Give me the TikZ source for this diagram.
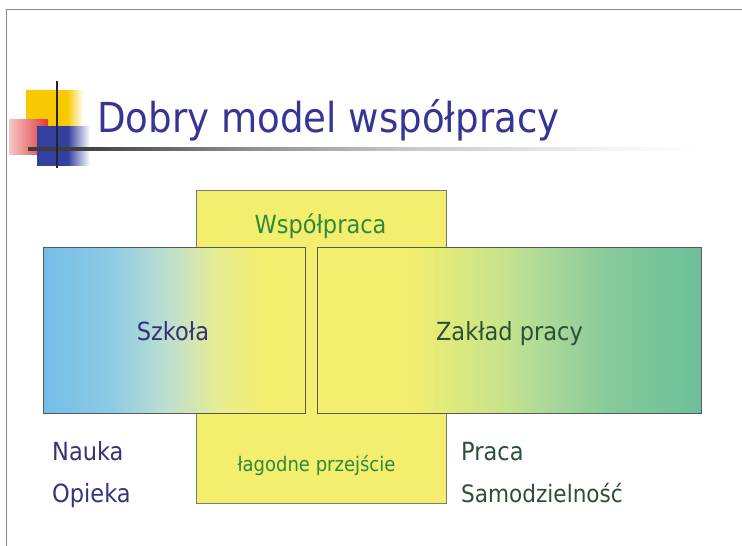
\documentclass[tikz,border=0pt]{standalone}
\usepackage{fontspec}
\setmainfont{DejaVu Sans}[FakeStretch=0.9]
\definecolor{cb1}{HTML}{74BDE8}
\definecolor{cb2}{HTML}{8DCBE4}
\definecolor{cb3}{HTML}{BFE0CF}
\definecolor{cy2}{HTML}{E6EC92}
\definecolor{cy}{HTML}{F3EE6E}
\definecolor{cg1}{HTML}{E2EC78}
\definecolor{cg2}{HTML}{C4E28E}
\definecolor{cg3}{HTML}{B0DA98}
\definecolor{cg4}{HTML}{86CA9A}
\definecolor{cg5}{HTML}{6CBF9A}
\definecolor{titleblue}{HTML}{353594}
\definecolor{navy}{HTML}{33337A}
\definecolor{txtgreen}{HTML}{2E8A3A}
\definecolor{darkgreen}{HTML}{2D4F36}
\definecolor{logoyel}{HTML}{F8C800}
\definecolor{logoblue}{HTML}{3340A0}
\definecolor{logored}{HTML}{E03A3A}
\definecolor{logopink}{HTML}{F6C6C6}
\definecolor{framegray}{HTML}{888888}
\definecolor{boxline}{HTML}{5A5A5A}
\pgfdeclarehorizontalshading{szk}{100bp}{color(0bp)=(cb1); color(25bp)=(cb1); color(38bp)=(cb2); color(49bp)=(cb3); color(58bp)=(cy2); color(67bp)=(cy); color(100bp)=(cy)}
\pgfdeclarehorizontalshading{zak}{100bp}{color(0bp)=(cy); color(37bp)=(cy); color(41bp)=(cg1); color(50bp)=(cg2); color(54bp)=(cg3); color(63bp)=(cg4); color(75bp)=(cg5); color(100bp)=(cg5)}
\pgfdeclarehorizontalshading{ylogo}{100bp}{color(0bp)=(logoyel); color(61bp)=(logoyel); color(75bp)=(white); color(100bp)=(white)}
\pgfdeclarehorizontalshading{blogo}{100bp}{color(0bp)=(logoblue); color(54bp)=(logoblue); color(75bp)=(white); color(100bp)=(white)}
\pgfdeclarehorizontalshading{rlogo}{100bp}{color(0bp)=(logopink); color(25bp)=(logopink); color(75bp)=(logored); color(100bp)=(logored)}
\pgfdeclarehorizontalshading{hline}{100bp}{color(0bp)=(black!85); color(29bp)=(black!75); color(41bp)=(black!45); color(53bp)=(black!22); color(68bp)=(black!5); color(75bp)=(white); color(100bp)=(white)}
\tikzset{
  boxstyle/.style={draw=boxline, line width=0.8pt, inner sep=0pt, anchor=north west},
  txt/.style={inner sep=0pt},
}
\begin{document}
\begin{tikzpicture}[x=1pt,y=-1pt]
\useasboundingbox (0,0) rectangle (742,546);
% frame
\draw[framegray, line width=1.5pt] (6.5,546) -- (6.5,9.5) -- (742,9.5);
% logo
\shade[shading=ylogo] (26,90) rectangle (83,133);
\shade[shading=rlogo] (9,119) rectangle (48,154);
\shade[shading=blogo] (37,126) rectangle (90,165);
\shade[shading=hline] (28,147.8) rectangle (700,150.4);
\draw[black!85, line width=1.5pt] (57,81) -- (57,168);
% title
\node[txt, anchor=base west, text=titleblue, font=\fontsize{41.3}{48}\selectfont] (title) at (97,132) {Dobry model współpracy};
% yellow box
\node[boxstyle, draw=boxline!80, fill=cy, minimum width=250pt, minimum height=313pt] (yel) at (196,190) {};
% left and right boxes
\node[boxstyle, shade, shading=szk, minimum width=262pt, minimum height=166pt] (szk) at (43,247) {};
\node[boxstyle, shade, shading=zak, minimum width=384pt, minimum height=166pt] (zak) at (317,247) {};
% texts
\node[txt, anchor=base, text=txtgreen, font=\fontsize{25}{30}\selectfont] (wsp) at (320.5,233) {Współpraca};
\node[txt, anchor=base, text=navy, font=\fontsize{25}{30}\selectfont] (szkt) at (173,340) {Szkoła};
\node[txt, anchor=base, text=darkgreen, font=\fontsize{25}{30}\selectfont] (zakt) at (509.5,340) {Zakład pracy};
\node[txt, anchor=base, text=txtgreen, font=\fontsize{20}{24}\selectfont] (lag) at (316.5,471) {łagodne przejście};
\node[txt, anchor=base west, text=navy, font=\fontsize{25}{30}\selectfont] (nauka) at (52,460) {Nauka};
\node[txt, anchor=base west, text=navy, font=\fontsize{25}{30}\selectfont] (opieka) at (52,502) {Opieka};
\node[txt, anchor=base west, text=darkgreen, font=\fontsize{25}{30}\selectfont] (praca) at (461,460) {Praca};
\node[txt, anchor=base west, text=darkgreen, font=\fontsize{24}{30}\selectfont] (samo) at (461,502) {Samodzielność};
\end{tikzpicture}
\end{document}
